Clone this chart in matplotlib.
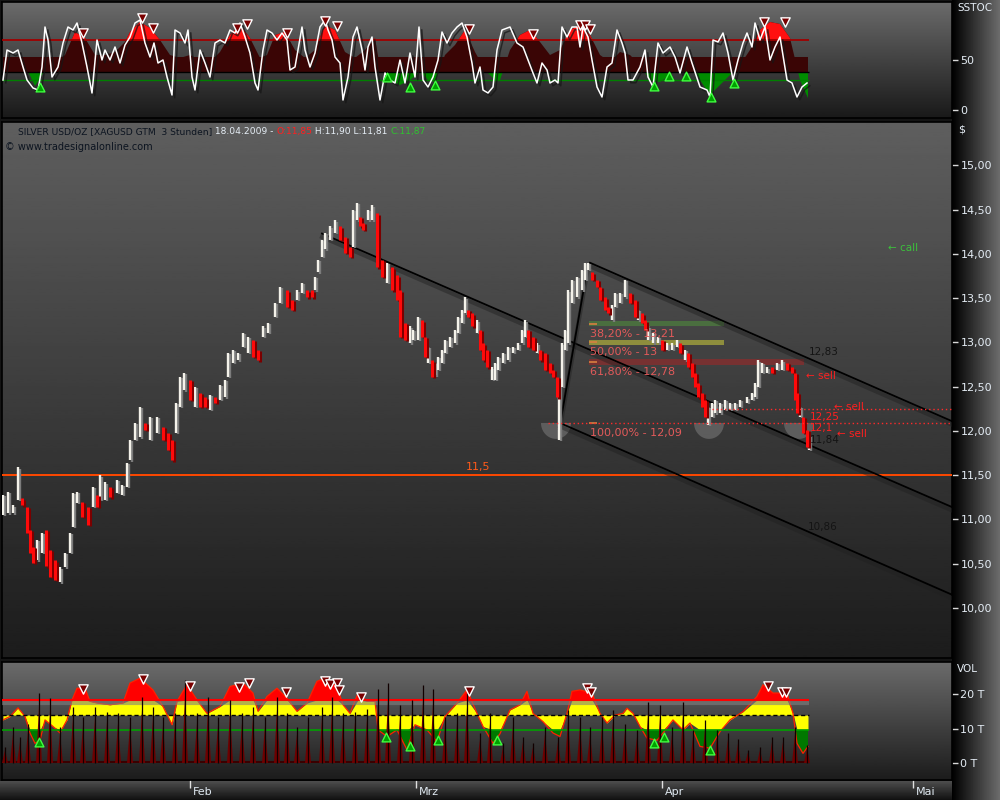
import numpy as np
import matplotlib
matplotlib.use("Agg")
import matplotlib.pyplot as plt
import matplotlib.patheffects as pe

plt.rcParams['font.family'] = ['DejaVu Sans']

# ---------------- price bars: chart column, high, low, down bar flag ----------------
bar_x = [3, 8, 13, 18, 22, 27, 30, 33, 37, 42,
         46, 50, 55, 60, 65, 70, 73, 77, 82, 88,
         93, 97, 100, 105, 110, 117, 122, 127, 130, 135,
         140, 145, 150, 157, 163, 168, 172, 176, 180, 184,
         190, 195, 200, 205, 210, 215, 220, 225, 228, 233,
         238, 243, 248, 253, 258, 263, 268, 275, 280, 287,
         292, 297, 302, 307, 312, 315, 318, 322, 325, 330,
         335, 340, 345, 350, 353, 357, 360, 363, 368, 372,
         377, 382, 387, 392, 397, 400, 405, 410, 413, 418,
         422, 425, 428, 432, 435, 438, 442, 445, 450, 455,
         458, 462, 465, 468, 472, 477, 480, 483, 487, 492,
         495, 498, 503, 508, 513, 518, 522, 525, 528, 533,
         537, 540, 545, 550, 553, 557, 559, 562, 565, 568,
         572, 577, 582, 585, 588, 592, 597, 600, 605, 608,
         612, 615, 620, 625, 630, 635, 638, 642, 645, 648,
         653, 658, 662, 667, 672, 677, 680, 685, 688, 692,
         695, 698, 702, 705, 708, 712, 715, 720, 725, 730,
         735, 740, 747, 752, 755, 758, 762, 767, 772, 777,
         782, 787, 792, 795, 797, 800, 803, 807, 809]
bar_hi = [11.28, 11.31, 11.16, 11.59, 11.24, 11.14, 10.88, 10.69, 10.77, 10.85,
          10.88, 10.66, 10.54, 10.46, 10.62, 10.85, 11.30, 11.31, 11.20, 11.14,
          11.37, 11.28, 11.50, 11.42, 11.37, 11.45, 11.39, 11.64, 11.90, 12.09,
          12.27, 12.09, 12.16, 12.16, 12.05, 11.98, 11.90, 12.32, 12.61, 12.66,
          12.58, 12.50, 12.43, 12.38, 12.41, 12.38, 12.52, 12.58, 12.88, 12.92,
          12.88, 13.11, 13.06, 13.03, 12.92, 13.18, 13.22, 13.45, 13.63, 13.59,
          13.48, 13.59, 13.67, 13.59, 13.59, 13.74, 13.93, 14.16, 14.24, 14.31,
          14.38, 14.31, 14.19, 14.08, 14.50, 14.58, 14.42, 14.35, 14.50, 14.55,
          14.46, 13.93, 13.90, 13.85, 13.76, 13.59, 13.22, 13.18, 13.14, 13.29,
          13.25, 13.06, 12.95, 12.80, 12.77, 12.84, 12.92, 13.03, 13.06, 13.14,
          13.29, 13.37, 13.51, 13.37, 13.33, 13.25, 13.14, 12.99, 12.92, 12.72,
          12.77, 12.84, 12.88, 12.95, 12.95, 12.99, 13.14, 13.25, 13.14, 13.06,
          12.99, 12.92, 12.88, 12.77, 12.69, 12.61, 12.54, 12.99, 13.14, 13.59,
          13.71, 13.74, 13.82, 13.90, 13.90, 13.79, 13.71, 13.63, 13.51, 13.40,
          13.42, 13.56, 13.56, 13.71, 13.56, 13.48, 13.37, 13.33, 13.25, 13.18,
          13.11, 13.06, 13.03, 12.99, 12.99, 13.03, 12.99, 12.92, 12.88, 12.77,
          12.66, 12.54, 12.43, 12.35, 12.27, 12.32, 12.35, 12.32, 12.35, 12.32,
          12.32, 12.35, 12.38, 12.43, 12.54, 12.80, 12.77, 12.72, 12.72, 12.77,
          12.80, 12.77, 12.72, 12.66, 12.43, 12.27, 12.16, 12.01, 11.95]
bar_lo = [11.05, 11.07, 11.07, 11.22, 11.16, 10.85, 10.62, 10.51, 10.54, 10.62,
          10.47, 10.35, 10.32, 10.29, 10.46, 10.62, 10.92, 11.19, 11.03, 10.94,
          11.14, 11.14, 11.22, 11.22, 11.25, 11.30, 11.28, 11.37, 11.67, 11.90,
          11.93, 12.01, 11.90, 11.98, 11.90, 11.79, 11.67, 11.98, 12.27, 12.46,
          12.35, 12.27, 12.27, 12.27, 12.24, 12.32, 12.35, 12.38, 12.61, 12.77,
          12.80, 12.95, 12.88, 12.84, 12.80, 13.06, 13.11, 13.29, 13.45, 13.40,
          13.37, 13.48, 13.56, 13.51, 13.51, 13.59, 13.79, 13.97, 14.05, 14.16,
          14.24, 14.16, 14.01, 13.97, 14.08, 14.38, 14.31, 14.27, 14.38, 14.38,
          13.85, 13.74, 13.67, 13.59, 13.48, 13.06, 13.03, 12.99, 13.03, 13.03,
          13.06, 12.84, 12.77, 12.61, 12.63, 12.69, 12.77, 12.88, 12.95, 12.99,
          13.11, 13.22, 13.33, 13.29, 13.18, 13.11, 12.92, 12.80, 12.72, 12.58,
          12.58, 12.69, 12.77, 12.80, 12.88, 12.92, 12.99, 13.06, 12.95, 12.92,
          12.88, 12.80, 12.69, 12.66, 12.61, 12.38, 11.90, 12.50, 12.92, 12.99,
          13.45, 13.51, 13.59, 13.71, 13.82, 13.71, 13.63, 13.48, 13.37, 13.33,
          13.25, 13.40, 13.45, 13.51, 13.45, 13.29, 13.25, 13.22, 13.14, 13.03,
          12.99, 12.99, 12.92, 12.92, 12.92, 12.95, 12.88, 12.80, 12.72, 12.61,
          12.50, 12.38, 12.27, 12.16, 12.07, 12.16, 12.20, 12.20, 12.24, 12.24,
          12.24, 12.27, 12.32, 12.35, 12.38, 12.50, 12.66, 12.66, 12.66, 12.69,
          12.69, 12.69, 12.66, 12.35, 12.20, 12.16, 11.98, 11.82, 11.79]
bar_dn = [0, 0, 0, 0, 1, 1, 1, 1, 0, 0,
          1, 1, 1, 0, 0, 0, 0, 0, 1, 1,
          0, 1, 0, 0, 1, 0, 0, 0, 0, 0,
          0, 1, 0, 0, 1, 1, 1, 0, 0, 0,
          1, 0, 1, 1, 0, 1, 0, 0, 0, 0,
          0, 0, 0, 1, 1, 0, 0, 0, 0, 1,
          1, 0, 0, 1, 1, 0, 0, 0, 0, 0,
          0, 1, 1, 1, 0, 0, 1, 1, 0, 0,
          1, 1, 0, 1, 1, 1, 1, 0, 0, 0,
          1, 1, 0, 1, 0, 0, 0, 0, 0, 0,
          0, 0, 0, 1, 1, 0, 1, 1, 1, 0,
          0, 0, 0, 0, 0, 0, 0, 0, 1, 1,
          0, 1, 1, 1, 1, 1, 0, 0, 0, 0,
          0, 0, 0, 0, 0, 1, 1, 1, 1, 1,
          0, 0, 0, 0, 1, 1, 0, 1, 1, 0,
          0, 0, 1, 0, 0, 0, 1, 0, 1, 1,
          1, 1, 1, 1, 0, 0, 0, 0, 0, 0,
          0, 0, 0, 0, 0, 0, 0, 0, 1, 0,
          0, 1, 1, 1, 1, 0, 1, 1, 0]

# trend channel lines: (x0, price0, x1, price1)
channel_lines = [(322, 14.23, 952, 11.14),
                 (590, 13.90, 952, 12.11),
                 (560, 12.09, 952, 10.15),
                 (560, 12.07, 588, 13.88)]

# fibonacci retracement
fib_pct = ['38,20%', '50,00%', '61,80%', '100,00%']
fib_val = ['13,21', '13', '12,78', '12,09']
fib_price = [13.21, 13.00, 12.78, 12.09]
support_line = 11.5
sell_level = 12.25

# ---------------- SSTOC ----------------
k_x = [3, 7, 13, 18, 23, 27, 33, 38, 42, 45,
       48, 52, 58, 63, 68, 73, 77, 82, 87, 92,
       97, 102, 105, 110, 115, 120, 125, 130, 135, 140,
       145, 150, 154, 158, 163, 167, 172, 175, 180, 185,
       188, 192, 195, 200, 205, 210, 215, 220, 225, 230,
       235, 240, 245, 250, 255, 258, 263, 267, 272, 277,
       282, 287, 290, 295, 302, 305, 310, 315, 320, 325,
       328, 332, 335, 340, 343, 348, 353, 357, 362, 365,
       368, 372, 375, 380, 385, 390, 395, 400, 405, 410,
       415, 419, 423, 428, 433, 438, 442, 447, 452, 457,
       462, 467, 472, 475, 480, 483, 488, 493, 497, 502,
       510, 517, 523, 528, 533, 537, 542, 547, 550, 555,
       558, 562, 567, 572, 577, 580, 583, 588, 592, 597,
       602, 607, 612, 617, 622, 625, 628, 633, 640, 645,
       648, 653, 658, 663, 670, 675, 680, 687, 692, 700,
       707, 710, 713, 718, 723, 728, 733, 738, 743, 747,
       752, 755, 760, 765, 770, 775, 780, 787, 792, 797,
       802, 807]
k_v = [30, 60, 57, 60, 43, 30, 22, 20, 43, 83,
       70, 33, 43, 67, 83, 80, 87, 67, 43, 17,
       70, 50, 60, 50, 63, 47, 65, 73, 87, 90,
       67, 53, 67, 47, 50, 33, 15, 80, 77, 67,
       80, 33, 20, 60, 47, 33, 67, 70, 67, 80,
       77, 87, 73, 57, 27, 20, 60, 80, 77, 70,
       77, 70, 40, 43, 83, 60, 43, 57, 83, 90,
       80, 70, 53, 47, 10, 33, 73, 83, 60, 40,
       63, 73, 43, 10, 37, 30, 27, 50, 27, 57,
       33, 83, 30, 23, 33, 50, 78, 67, 77, 83,
       87, 73, 47, 27, 43, 20, 17, 23, 60, 80,
       83, 67, 63, 50, 37, 27, 47, 40, 27, 30,
       27, 83, 73, 83, 83, 63, 83, 73, 50, 23,
       13, 43, 47, 80, 67, 57, 30, 30, 43, 60,
       33, 23, 67, 57, 63, 53, 37, 63, 47, 23,
       20, 13, 70, 68, 77, 57, 30, 50, 67, 77,
       63, 87, 70, 83, 50, 63, 73, 30, 27, 13,
       23, 27]
s_x = [3, 15, 25, 35, 45, 55, 65, 75, 85, 95,
       105, 115, 125, 130, 140, 150, 160, 170, 180, 190,
       200, 210, 220, 230, 240, 250, 260, 267, 275, 285,
       295, 305, 315, 325, 335, 345, 355, 365, 375, 380,
       390, 400, 410, 420, 428, 435, 445, 455, 465, 475,
       485, 495, 500, 510, 520, 530, 540, 550, 560, 570,
       580, 590, 600, 610, 620, 630, 640, 650, 660, 670,
       680, 690, 700, 710, 720, 730, 740, 750, 760, 770,
       780, 790, 800, 808]
s_v = [53, 52, 45, 24, 40, 48, 55, 78, 72, 55,
       55, 58, 68, 78, 88, 82, 70, 55, 52, 55,
       50, 48, 58, 75, 85, 72, 52, 55, 75, 78,
       60, 52, 60, 85, 80, 58, 52, 60, 72, 42,
       30, 25, 30, 38, 30, 28, 55, 65, 80, 58,
       40, 30, 30, 60, 75, 80, 68, 55, 60, 80,
       85, 75, 55, 48, 58, 55, 45, 30, 28, 35,
       45, 45, 30, 15, 25, 35, 45, 60, 80, 88,
       86, 72, 30, 12]
s_dn_x = [83, 142, 153, 237, 247, 287, 325, 337, 469, 533, 580, 585, 590, 764, 785]
s_dn_v = [77, 92, 82, 82, 86, 77, 89, 84, 81, 76, 85, 85, 81, 88, 88]
s_up_x = [40, 387, 410, 435, 654, 669, 686, 711, 734]
s_up_v = [23, 33, 23, 25, 24, 34, 34, 13, 27]

# ---------------- volume ----------------
v_x = [3, 10, 18, 25, 30, 35, 40, 45, 53, 60,
       67, 72, 77, 85, 90, 97, 110, 123, 130, 140,
       153, 163, 172, 177, 187, 197, 207, 220, 230, 243,
       253, 258, 267, 277, 287, 297, 307, 317, 325, 337,
       343, 350, 358, 367, 375, 378, 387, 397, 407, 415,
       427, 437, 445, 457, 467, 477, 483, 493, 500, 510,
       520, 527, 533, 543, 553, 560, 567, 572, 580, 592,
       600, 607, 615, 623, 627, 633, 640, 647, 657, 663,
       673, 683, 690, 700, 710, 720, 730, 743, 757, 763,
       773, 787, 793, 797, 803, 808]
v_v = [12.5, 13.5, 16.0, 13.5, 8.7, 5.7, 6.6, 12.5, 10.6, 8.7,
       12.5, 18.3, 21.7, 21.7, 17.9, 17.4, 16.9, 17.4, 23.2, 24.6,
       21.2, 16.4, 11.1, 17.9, 22.7, 18.3, 14.4, 16.4, 22.2, 23.2,
       20.3, 15.0, 19.3, 21.7, 18.8, 15.0, 17.4, 23.7, 24.6, 22.2,
       16.9, 14.4, 20.3, 17.9, 17.9, 9.6, 7.7, 9.6, 3.8, 11.1,
       9.6, 6.2, 13.5, 17.4, 21.2, 14.4, 10.6, 5.7, 8.5, 15.4,
       16.9, 20.8, 14.4, 12.0, 8.7, 7.7, 14.4, 20.8, 21.2, 20.3,
       14.4, 11.6, 13.9, 14.4, 15.9, 14.4, 10.6, 7.2, 6.6, 8.7,
       12.5, 9.6, 11.6, 4.8, 4.3, 9.1, 12.5, 14.9, 19.3, 22.7,
       20.3, 20.3, 14.4, 5.7, 2.8, 4.8]
spike_x = [5, 13, 20, 28, 39, 50, 60, 73, 83, 95,
           107, 118, 130, 142, 153, 163, 175, 185, 197, 208,
           218, 230, 242, 253, 265, 277, 287, 297, 308, 322,
           332, 343, 355, 367, 378, 388, 400, 412, 423, 433,
           445, 457, 467, 480, 490, 503, 513, 523, 533, 545,
           558, 568, 580, 590, 602, 613, 625, 637, 648, 660,
           672, 683, 693, 705, 717, 728, 738, 748, 760, 772,
           783, 795, 807]
spike_v = [4.7, 10.5, 7.6, 11.4, 20.2, 18.8, 10.5, 16.3, 13.4, 16.3,
           14.9, 14.4, 13.4, 19.2, 16.3, 13.4, 14.4, 24.1, 14.4, 19.2,
           13.4, 18.3, 14.4, 16.3, 13.4, 19.2, 14.4, 10.5, 13.4, 16.3,
           19.2, 14.4, 14.9, 15.8, 21.6, 23.1, 16.8, 18.3, 22.6, 21.6,
           13.4, 14.4, 20.2, 8.6, 14.4, 5.7, 13.4, 7.6, 5.7, 10.5,
           7.6, 15.3, 13.4, 10.5, 13.4, 15.3, 11.4, 9.5, 17.8, 16.8,
           10.5, 17.8, 9.5, 12.4, 9.5, 8.6, 7.1, 3.8, 4.7, 7.6,
           7.6, 10.5, 5.2]
v_dn_x = [83, 143, 190, 239, 249, 286, 325, 330, 337, 339, 361, 469, 587, 591, 768, 782, 786]
v_dn_v = [21.4, 24.3, 22.3, 22.1, 23.3, 20.7, 23.9, 22.9, 23.1, 21.2, 19.2, 21.0, 21.9, 20.7, 22.3, 20.7, 20.7]
v_up_x = [39, 386, 410, 438, 497, 654, 664, 710]
v_up_v = [6.2, 7.4, 4.9, 6.8, 6.8, 5.9, 7.4, 3.8]

month_x = [190, 416, 662, 913]
month_lbl = ['Feb', 'Mrz', 'Apr', 'Mai']

# ---------------- figure ----------------
W, H = 1000, 800
fig = plt.figure(figsize=(10, 8), dpi=100)
fig.patch.set_facecolor('#141414')


def px_rect(x0, y0, x1, y1):
    return [x0 / W, 1 - y1 / H, (x1 - x0) / W, (y1 - y0) / H]


back = fig.add_axes([0, 0, 1, 1], zorder=-5)
back.set_axis_off()
img = np.full((H, W), 0.08)
img[:, 952:] = np.linspace(0.0, 0.42, W - 952)[None, :]
img[781:, :952] = np.linspace(0.30, 0.07, H - 781)[:, None]
back.imshow(img, cmap='gray', vmin=0, vmax=1, extent=[0, 1, 0, 1], aspect='auto')


def make_panel(y0, y1, ylim, top=0.40, bottom=0.11):
    ax = fig.add_axes(px_rect(2, y0, 952, y1))
    grad = np.linspace(top, bottom, 200)[:, None]
    ax.imshow(grad, cmap='gray', vmin=0, vmax=1, extent=[0, 1, 0, 1],
              transform=ax.transAxes, aspect='auto', zorder=0)
    ax.set_xlim(2, 952)
    ax.set_ylim(*ylim)
    for s in ax.spines.values():
        s.set_color('black')
        s.set_linewidth(1.2)
    ax.yaxis.tick_right()
    ax.tick_params(axis='y', direction='out', length=4, width=1, color='#d8d8d8',
                   labelcolor='#e4ecf4', labelsize=8, pad=2)
    ax.tick_params(axis='x', bottom=False, labelbottom=False)
    return ax


ax_s = make_panel(2, 118, (-8, 108), top=0.42, bottom=0.10)
ax_p = make_panel(122, 658, (9.435, 15.49), top=0.37, bottom=0.11)
ax_v = make_panel(662, 780, (-4.93, 29.3), top=0.42, bottom=0.11)

# ---- SSTOC panel ----
sx, sv = np.array(s_x), np.array(s_v, float)
ax_s.fill_between([sx[0], sx[-1]], 38, 53, color='#3a0505', zorder=1, lw=0)
ax_s.fill_between(sx, 53, sv, where=sv > 53, interpolate=True, color='#3a0505', zorder=1, lw=0)
ax_s.fill_between(sx, 70, sv, where=sv > 70, interpolate=True, color='#ff1010', zorder=2, lw=0)
ax_s.fill_between(sx, 38, sv, where=sv < 38, interpolate=True, color='#008c00', zorder=2, lw=0)
ax_s.hlines(70, 2, 809, color='#a00000', lw=1.3, zorder=3)
ax_s.hlines(38, 2, 809, color='black', lw=1.0, zorder=3)
ax_s.hlines(30, 2, 809, color='#008000', lw=1.0, zorder=3)
ax_s.plot(k_x, k_v, color='white', lw=1.1, zorder=4,
          path_effects=[pe.SimpleLineShadow(offset=(2, -2), shadow_color='#151515', alpha=0.7),
                        pe.Normal()])
ax_s.scatter(s_dn_x, s_dn_v, marker='v', s=45, facecolor='#7a0000', edgecolor='white',
             linewidths=1, zorder=5)
ax_s.scatter(s_up_x, s_up_v, marker='^', s=40, facecolor='#00a000', edgecolor='#40ff40',
             linewidths=1, zorder=5)
ax_s.set_yticks([0, 50])
ax_s.set_yticklabels(['0', '50'])

# ---- price panel ----
for x0, p0, x1, p1 in channel_lines:
    ax_p.plot([x0, x1], [p0, p1], color='black', lw=1.3, zorder=4,
              path_effects=[pe.SimpleLineShadow(offset=(0, -2.5), shadow_color='#202020',
                                                alpha=0.45, linewidth=3), pe.Normal()])

ax_p.axhline(support_line, color='#ff4800', lw=1.4, zorder=3)
ax_p.text(478, support_line + 0.04, '11,5', color='#ff5a1a', fontsize=8, ha='center',
          va='bottom', zorder=6)

band_colors = ['#4d7d3d', '#a8a83c', '#8a2c2c']
band_end = [724, 724, 804]
for p, c, xe in zip(fib_price[:3], band_colors, band_end):
    ax_p.fill_between([589, xe], p - 0.03, p + 0.03, color=c, alpha=0.75, lw=0, zorder=3)
ax_p.hlines(fib_price, 589, 597, color='#d88040', lw=1.2, zorder=7)
ax_p.hlines(fib_price[3], 548, 952, color='#ff2a2a', lw=1, linestyles=(0, (1, 2)), zorder=7)
ax_p.hlines(sell_level, 712, 952, color='#ff2a2a', lw=1, linestyles=(0, (1, 2)), zorder=7)
for pct, val, p in zip(fib_pct, fib_val, fib_price):
    ax_p.text(590, p - 0.11, f'{pct} - {val}', color='#e25a5a', fontsize=8, va='center',
              ha='left', zorder=8)

for xc in [556, 709, 799]:
    t = np.linspace(np.pi, 2 * np.pi, 30)
    ax_p.fill(xc + 15 * np.cos(t), fib_price[3] + 0.18 * np.sin(t), color='#c0c0c0',
              alpha=0.28, lw=0, zorder=2)

bx = np.array(bar_x)
hi = np.array(bar_hi)
lo = np.array(bar_lo)
dn = np.array(bar_dn, bool)
ax_p.vlines(bx[~dn], lo[~dn], hi[~dn], color='#f4f2ea', lw=1.7, zorder=5,
            path_effects=[pe.SimpleLineShadow(offset=(1.3, -1), shadow_color='#7c7c7c', alpha=1),
                          pe.Normal()])
ax_p.vlines(bx[dn], lo[dn], hi[dn], color='#ff0a0a', lw=2.2, zorder=6,
            path_effects=[pe.SimpleLineShadow(offset=(1.3, -1), shadow_color='#7a0000', alpha=1),
                          pe.Normal()])

lbl = dict(fontsize=7.5, va='center', zorder=8)
ax_p.text(809, 12.89, '12,83', color='#141414', **lbl)
ax_p.text(806, 12.62, '← sell', color='#ff2020', **lbl)
ax_p.text(810, 12.16, '12,25', color='#ff2020', **lbl)
ax_p.text(834, 12.27, '← sell', color='#ff2020', **lbl)
ax_p.text(810, 12.03, '12,1', color='#ff2020', **lbl)
ax_p.text(837, 11.97, '← sell', color='#ff2020', **lbl)
ax_p.text(810, 11.90, '11,84', color='#141414', **lbl)
ax_p.text(808, 10.92, '10,86', color='#141414', **lbl)
ax_p.text(888, 14.07, '← call', color='#3cc03c', **lbl)

pt = np.arange(10, 15.01, 0.5)
ax_p.set_yticks(pt)
ax_p.set_yticklabels([f'{v:.2f}'.replace('.', ',') for v in pt])

# header (narrow face if available)
hdr_font = ['Liberation Sans Narrow', 'DejaVu Sans']
hdr_y = 1 - 134 / H
t = fig.text(18 / W, hdr_y, 'SILVER USD/OZ [XAGUSD GTM  3 Stunden]', color='#0c1420',
             fontsize=6.6, va='baseline', family=hdr_font)
for s, c in [(' 18.04.2009 - ', '#e6eef6'), ('O:11,85', '#ff2020'),
             (' H:11,90 L:11,81 ', '#e6eef6'), ('C:11,87', '#30c030')]:
    t = ax_p.annotate(s, xy=(1, hdr_y), xycoords=(t, 'figure fraction'), va='baseline',
                      ha='left', color=c, fontsize=6.6, family=hdr_font,
                      annotation_clip=False)
fig.text(5 / W, 1 - 150 / H, '© www.tradesignalonline.com', color='#0c1420', fontsize=7,
         va='baseline', family=hdr_font)

# ---- volume panel ----
vx, vv = np.array(v_x), np.array(v_v)
ax_v.fill_between(vx, 13.9, np.clip(vv, 9.6, 18.3), color='#ffff00', lw=0, zorder=1)
ax_v.fill_between(vx, 18.3, vv, where=vv > 18.3, interpolate=True, color='#ff0000', lw=0, zorder=1)
ax_v.fill_between(vx, 9.6, vv, where=vv < 9.6, interpolate=True, color='#007800', lw=0, zorder=1)
ax_v.plot(vx, vv, color='#ff2000', lw=0.9, zorder=2)
line_fx = [pe.SimpleLineShadow(offset=(0, -2.5), shadow_color='#808080', alpha=0.6, linewidth=3),
           pe.Normal()]
ax_v.hlines(18.3, 2, 809, color='#ff0000', lw=1.5, zorder=3, path_effects=line_fx)
ax_v.hlines(13.9, 2, 809, color='black', lw=1.0, linestyles=(0, (3, 2)), zorder=3)
ax_v.hlines(9.6, 2, 809, color='#00a000', lw=1.2, zorder=3)
ax_v.fill_between([2, 809], 0, 0.7, color='#3a0000', lw=0, zorder=2)
for x, v in zip(spike_x, spike_v):
    ax_v.fill([x - 3, x, x + 3], [0, v * 0.8, 0], color='#6e0000', lw=0, zorder=3)
ax_v.vlines(spike_x, 0, spike_v, color='#100000', lw=0.9, zorder=3)
ax_v.scatter(v_dn_x, v_dn_v, marker='v', s=45, facecolor='#7a0000', edgecolor='white',
             linewidths=1, zorder=5)
ax_v.scatter(v_up_x, v_up_v, marker='^', s=40, facecolor='#00a000', edgecolor='#40ff40',
             linewidths=1, zorder=5)
ax_v.set_yticks([0, 10, 20])
ax_v.set_yticklabels(['0 T', '10 T', '20 T'])

ax_v.set_xticks(month_x)
ax_v.tick_params(axis='x', bottom=True, labelbottom=False, direction='out', length=6,
                 width=1, color='#e0e0e0')
for x, lb in zip(month_x, month_lbl):
    fig.text((x + 3) / W, 1 - 792 / H, lb, color='#dfe8f0', fontsize=8, va='center')

fig.text(957 / W, 1 - 8 / H, 'SSTOC', color='#e4ecf4', fontsize=7.5, va='center')
fig.text(958 / W, 1 - 130 / H, '$', color='#e4ecf4', fontsize=8, va='center')
fig.text(957 / W, 1 - 669 / H, 'VOL', color='#e4ecf4', fontsize=7.5, va='center')

fig.savefig('out.png', dpi=100, facecolor=fig.get_facecolor())
